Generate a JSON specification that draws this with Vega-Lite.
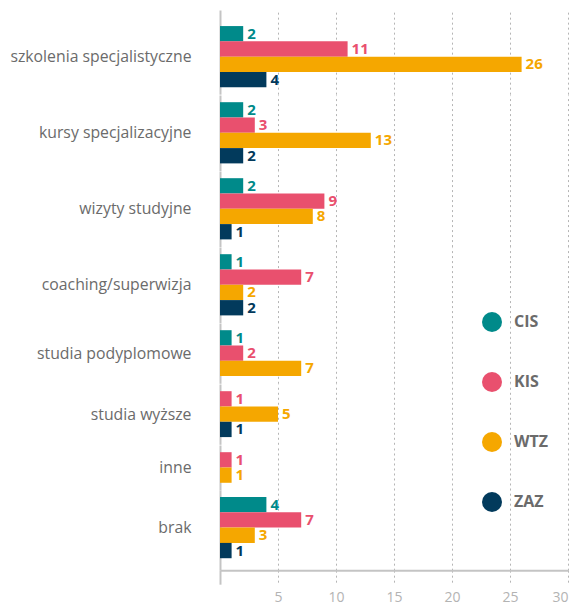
{
  "$schema": "https://vega.github.io/schema/vega-lite/v6.json",
  "padding": {"left": 9, "top": 10, "right": 0, "bottom": 0},
  "background": "white",
  "data": {"values": [
    {"kategoria": "szkolenia specjalistyczne", "grupa": "CIS", "liczba": 2},
    {"kategoria": "szkolenia specjalistyczne", "grupa": "KIS", "liczba": 11},
    {"kategoria": "szkolenia specjalistyczne", "grupa": "WTZ", "liczba": 26},
    {"kategoria": "szkolenia specjalistyczne", "grupa": "ZAZ", "liczba": 4},
    {"kategoria": "kursy specjalizacyjne", "grupa": "CIS", "liczba": 2},
    {"kategoria": "kursy specjalizacyjne", "grupa": "KIS", "liczba": 3},
    {"kategoria": "kursy specjalizacyjne", "grupa": "WTZ", "liczba": 13},
    {"kategoria": "kursy specjalizacyjne", "grupa": "ZAZ", "liczba": 2},
    {"kategoria": "wizyty studyjne", "grupa": "CIS", "liczba": 2},
    {"kategoria": "wizyty studyjne", "grupa": "KIS", "liczba": 9},
    {"kategoria": "wizyty studyjne", "grupa": "WTZ", "liczba": 8},
    {"kategoria": "wizyty studyjne", "grupa": "ZAZ", "liczba": 1},
    {"kategoria": "coaching/superwizja", "grupa": "CIS", "liczba": 1},
    {"kategoria": "coaching/superwizja", "grupa": "KIS", "liczba": 7},
    {"kategoria": "coaching/superwizja", "grupa": "WTZ", "liczba": 2},
    {"kategoria": "coaching/superwizja", "grupa": "ZAZ", "liczba": 2},
    {"kategoria": "studia podyplomowe", "grupa": "CIS", "liczba": 1},
    {"kategoria": "studia podyplomowe", "grupa": "KIS", "liczba": 2},
    {"kategoria": "studia podyplomowe", "grupa": "WTZ", "liczba": 7},
    {"kategoria": "studia podyplomowe", "grupa": "ZAZ", "liczba": 0},
    {"kategoria": "studia wyższe", "grupa": "CIS", "liczba": 0},
    {"kategoria": "studia wyższe", "grupa": "KIS", "liczba": 1},
    {"kategoria": "studia wyższe", "grupa": "WTZ", "liczba": 5},
    {"kategoria": "studia wyższe", "grupa": "ZAZ", "liczba": 1},
    {"kategoria": "inne", "grupa": "CIS", "liczba": 0},
    {"kategoria": "inne", "grupa": "KIS", "liczba": 1},
    {"kategoria": "inne", "grupa": "WTZ", "liczba": 1},
    {"kategoria": "inne", "grupa": "ZAZ", "liczba": 0},
    {"kategoria": "brak", "grupa": "CIS", "liczba": 4},
    {"kategoria": "brak", "grupa": "KIS", "liczba": 7},
    {"kategoria": "brak", "grupa": "WTZ", "liczba": 3},
    {"kategoria": "brak", "grupa": "ZAZ", "liczba": 1}
  ]},
  "transform": [{"filter": "datum.liczba > 0"}],
  "spacing": 0,
  "resolve": {"scale": {"y": "independent"}},
  "vconcat": [
    {
      "transform": [{"filter": "datum.kategoria === 'szkolenia specjalistyczne'"}],
      "width": 348, "height": {"step": 15.3},
      "encoding": {
        "y": {"field": "grupa", "type": "nominal", "scale": {"paddingInner": 0, "paddingOuter": 0.75, "align": 0.7}, "axis": {"title": "szkolenia specjalistyczne", "titleY": 46.6}},
        "x": {"field": "liczba", "type": "quantitative", "scale": {"domain": [0, 30], "nice": false}},
        "color": {"field": "grupa", "type": "nominal"}
      },
      "layer": [{"mark": "bar"}, {"mark": {"type": "text", "align": "left", "baseline": "middle", "dx": 4, "font": "Open Sans", "fontSize": 15, "fontWeight": "bold"}, "encoding": {"text": {"field": "liczba", "type": "quantitative"}}}]
    },
    {
      "transform": [{"filter": "datum.kategoria === 'kursy specjalizacyjne'"}],
      "width": 348, "height": {"step": 15.3},
      "encoding": {
        "y": {"field": "grupa", "type": "nominal", "scale": {"paddingInner": 0, "paddingOuter": 0.47}, "axis": {"title": "kursy specjalizacyjne", "titleY": 37.8}},
        "x": {"field": "liczba", "type": "quantitative", "scale": {"domain": [0, 30], "nice": false}},
        "color": {"field": "grupa", "type": "nominal"}
      },
      "layer": [{"mark": "bar"}, {"mark": {"type": "text", "align": "left", "baseline": "middle", "dx": 4, "font": "Open Sans", "fontSize": 15, "fontWeight": "bold"}, "encoding": {"text": {"field": "liczba", "type": "quantitative"}}}]
    },
    {
      "transform": [{"filter": "datum.kategoria === 'wizyty studyjne'"}],
      "width": 348, "height": {"step": 15.3},
      "encoding": {
        "y": {"field": "grupa", "type": "nominal", "scale": {"paddingInner": 0, "paddingOuter": 0.47}, "axis": {"title": "wizyty studyjne", "titleY": 37.8}},
        "x": {"field": "liczba", "type": "quantitative", "scale": {"domain": [0, 30], "nice": false}},
        "color": {"field": "grupa", "type": "nominal"}
      },
      "layer": [{"mark": "bar"}, {"mark": {"type": "text", "align": "left", "baseline": "middle", "dx": 4, "font": "Open Sans", "fontSize": 15, "fontWeight": "bold"}, "encoding": {"text": {"field": "liczba", "type": "quantitative"}}}]
    },
    {
      "transform": [{"filter": "datum.kategoria === 'coaching/superwizja'"}],
      "width": 348, "height": {"step": 15.3},
      "encoding": {
        "y": {"field": "grupa", "type": "nominal", "scale": {"paddingInner": 0, "paddingOuter": 0.47}, "axis": {"title": "coaching/superwizja", "titleY": 37.8}},
        "x": {"field": "liczba", "type": "quantitative", "scale": {"domain": [0, 30], "nice": false}},
        "color": {"field": "grupa", "type": "nominal"}
      },
      "layer": [{"mark": "bar"}, {"mark": {"type": "text", "align": "left", "baseline": "middle", "dx": 4, "font": "Open Sans", "fontSize": 15, "fontWeight": "bold"}, "encoding": {"text": {"field": "liczba", "type": "quantitative"}}}]
    },
    {
      "transform": [{"filter": "datum.kategoria === 'studia podyplomowe'"}],
      "width": 348, "height": {"step": 15.3},
      "encoding": {
        "y": {"field": "grupa", "type": "nominal", "scale": {"paddingInner": 0, "paddingOuter": 0.47}, "axis": {"title": "studia podyplomowe", "titleY": 30.15}},
        "x": {"field": "liczba", "type": "quantitative", "scale": {"domain": [0, 30], "nice": false}},
        "color": {"field": "grupa", "type": "nominal"}
      },
      "layer": [{"mark": "bar"}, {"mark": {"type": "text", "align": "left", "baseline": "middle", "dx": 4, "font": "Open Sans", "fontSize": 15, "fontWeight": "bold"}, "encoding": {"text": {"field": "liczba", "type": "quantitative"}}}]
    },
    {
      "transform": [{"filter": "datum.kategoria === 'studia wyższe'"}],
      "width": 348, "height": {"step": 15.3},
      "encoding": {
        "y": {"field": "grupa", "type": "nominal", "scale": {"paddingInner": 0, "paddingOuter": 0.47}, "axis": {"title": "studia wyższe", "titleY": 30.15}},
        "x": {"field": "liczba", "type": "quantitative", "scale": {"domain": [0, 30], "nice": false}},
        "color": {"field": "grupa", "type": "nominal"}
      },
      "layer": [{"mark": "bar"}, {"mark": {"type": "text", "align": "left", "baseline": "middle", "dx": 4, "font": "Open Sans", "fontSize": 15, "fontWeight": "bold"}, "encoding": {"text": {"field": "liczba", "type": "quantitative"}}}]
    },
    {
      "transform": [{"filter": "datum.kategoria === 'inne'"}],
      "width": 348, "height": {"step": 15.3},
      "encoding": {
        "y": {"field": "grupa", "type": "nominal", "scale": {"paddingInner": 0, "paddingOuter": 0.47}, "axis": {"title": "inne", "titleY": 22.5}},
        "x": {"field": "liczba", "type": "quantitative", "scale": {"domain": [0, 30], "nice": false}},
        "color": {"field": "grupa", "type": "nominal"}
      },
      "layer": [{"mark": "bar"}, {"mark": {"type": "text", "align": "left", "baseline": "middle", "dx": 4, "font": "Open Sans", "fontSize": 15, "fontWeight": "bold"}, "encoding": {"text": {"field": "liczba", "type": "quantitative"}}}]
    },
    {
      "transform": [{"filter": "datum.kategoria === 'brak'"}],
      "width": 348, "height": {"step": 15.3},
      "encoding": {
        "y": {"field": "grupa", "type": "nominal", "scale": {"paddingInner": 0, "paddingOuter": 0.62, "align": 0.37}, "axis": {"title": "brak", "titleY": 37.6}},
        "x": {"field": "liczba", "type": "quantitative", "scale": {"domain": [0, 30], "nice": false},
          "axis": {"labels": true, "ticks": true, "domain": true, "tickSize": 14, "labelPadding": 6,
            "labelExpr": "datum.value === 0 ? '' : datum.label",
            "tickColor": {"condition": {"test": "datum.value === 0", "value": "#c4c4c4"}, "value": "#b5b5b5"},
            "tickDash": {"condition": {"test": "datum.value === 0", "value": []}, "value": [2, 3]},
            "tickWidth": {"condition": {"test": "datum.value === 0", "value": 2}, "value": 1}}},
        "color": {
          "field": "grupa",
          "type": "nominal",
          "scale": {"domain": ["CIS", "KIS", "WTZ", "ZAZ"], "range": ["#008a8a", "#e9506e", "#f5a700", "#023a5c"]},
          "legend": {
            "title": null,
            "orient": "none",
            "legendX": 262,
            "legendY": 302,
            "symbolType": "circle",
            "symbolSize": 400,
            "symbolOpacity": 1,
            "symbolStrokeWidth": 0,
            "rowPadding": 40,
            "labelFont": "Open Sans",
            "labelFontSize": 16,
            "labelFontWeight": "bold",
            "labelColor": "#6b6b6b",
            "labelOffset": 12
          }
        }
      },
      "layer": [{"mark": "bar"}, {"mark": {"type": "text", "align": "left", "baseline": "middle", "dx": 4, "font": "Open Sans", "fontSize": 15, "fontWeight": "bold"}, "encoding": {"text": {"field": "liczba", "type": "quantitative"}}}]
    }
  ],
  "config": {
    "view": {"stroke": null},
    "axisY": {
      "domain": false, "ticks": false, "labels": false, "grid": false,
      "titleAngle": 0, "titleAlign": "right", "titleBaseline": "middle", "titleX": -29,
      "titleFont": "Open Sans", "titleFontSize": 15.8, "titleFontWeight": "normal", "titleColor": "#6b6b6b"
    },
    "axisX": {
      "title": null,
      "values": [0, 5, 10, 15, 20, 25, 30],
      "labels": false, "ticks": false, "domain": false,
      "tickSize": 14,
      "grid": true,
      "gridColor": {"condition": {"test": "datum.value === 0", "value": "#c4c4c4"}, "value": "#b5b5b5"},
      "gridDash": {"condition": {"test": "datum.value === 0", "value": []}, "value": [2, 3]},
      "gridWidth": {"condition": {"test": "datum.value === 0", "value": 2}, "value": 1},
      "domainColor": "#c4c4c4",
      "domainWidth": 2,
      "labelFont": "Open Sans",
      "labelFontSize": 14,
      "labelColor": "#b3b3b3"
    }
  }
}
